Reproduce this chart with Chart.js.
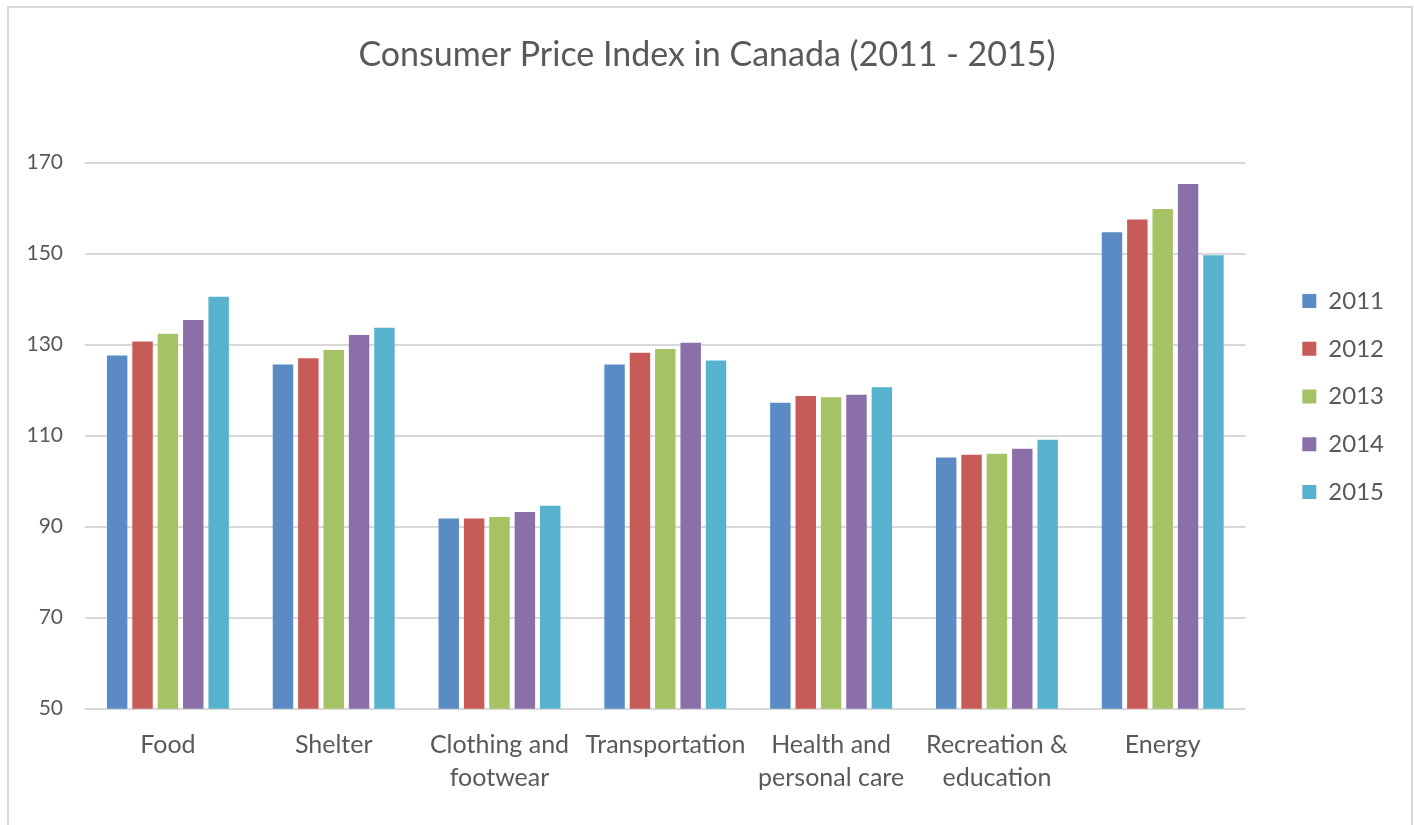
<!DOCTYPE html>
<html>
<head>
<meta charset="utf-8">
<script src="https://cdn.jsdelivr.net/npm/chart.js@4/dist/chart.umd.min.js"></script>
<style>
  html, body { margin: 0; padding: 0; background: #ffffff; }
  #wrap { position: relative; width: 1414px; height: 825px; overflow: hidden; }
  #frame { position: absolute; left: 7px; top: 6px; width: 1402px; height: 830px;
           border-left: 2px solid #d9d9d9; border-top: 2px solid #d9d9d9; border-right: 2px solid #d9d9d9; }
  canvas { position: absolute; left: 0; top: 0; }
</style>
</head>
<body>
<div id="wrap">
  <div id="frame"></div>
  <canvas id="c" width="1414" height="825"></canvas>
</div>
<script>
const categories = [
  'Food',
  'Shelter',
  ['Clothing and', 'footwear'],
  'Transportation',
  ['Health and', 'personal care'],
  ['Recreation &', 'education'],
  'Energy'
];
const years = ['2011', '2012', '2013', '2014', '2015'];
const cpi2011 = [127.6, 125.6, 91.8, 125.6, 117.2, 105.2, 154.7];
const cpi2012 = [130.7, 127.0, 91.8, 128.2, 118.7, 105.8, 157.5];
const cpi2013 = [132.4, 128.8, 92.1, 129.0, 118.4, 106.0, 159.8];
const cpi2014 = [135.4, 132.1, 93.2, 130.4, 119.0, 107.1, 165.3];
const cpi2015 = [140.5, 133.7, 94.6, 126.5, 120.6, 109.1, 149.6];
const yTicks = [50, 70, 90, 110, 130, 150, 170];

const seriesValues = [cpi2011, cpi2012, cpi2013, cpi2014, cpi2015];
const seriesColors = ['#5B8BC4', '#C75B57', '#A5C264', '#8B6FA9', '#57B3CD'];

const FONT = 'Lato, "Open Sans", sans-serif';
const TEXT = '#595959';

new Chart(document.getElementById('c'), {
  type: 'bar',
  data: {
    labels: categories,
    datasets: years.map((y, i) => ({
      label: y,
      data: seriesValues[i],
      backgroundColor: seriesColors[i],
      borderWidth: 0,
      categoryPercentage: 0.765,
      barPercentage: 0.806
    }))
  },
  options: {
    responsive: false,
    animation: false,
    devicePixelRatio: 1,
    layout: { padding: { left: 20, right: 20, top: 0, bottom: 32 } },
    plugins: {
      title: {
        display: true,
        text: 'Consumer Price Index in Canada (2011 - 2015)',
        color: TEXT,
        font: { family: FONT, size: 34, weight: 'normal', lineHeight: 1.2 },
        padding: { top: 35, bottom: 86.7 }
      },
      legend: {
        position: 'right',
        align: 'center',
        labels: {
          color: TEXT,
          font: { family: FONT, size: 24 },
          boxWidth: 14,
          boxHeight: 14,
          padding: 23.7
        }
      },
      tooltip: { enabled: false }
    },
    scales: {
      x: {
        grid: { display: false },
        border: { display: false },
        ticks: {
          color: TEXT,
          font: { family: FONT, size: 25, lineHeight: 1.32 },
          padding: 12,
          maxRotation: 0,
          autoSkip: false
        },
        afterFit: s => { s.height = 825 - 32 - 708.7; }
      },
      y: {
        min: 50,
        max: 170,
        afterBuildTicks: s => { s.ticks = yTicks.map(v => ({ value: v })); },
        grid: { color: '#d9d9d9', lineWidth: 2, drawTicks: false },
        border: { display: false },
        ticks: {
          color: TEXT,
          font: { family: FONT, size: 21 },
          padding: 22
        },
        afterFit: s => { s.width = 65; }
      },
      pad: {
        type: 'linear',
        position: 'right',
        display: true,
        grid: { display: false, drawTicks: false },
        border: { display: false },
        ticks: { display: false },
        afterFit: s => { s.width = 33; }
      }
    }
  }
});
</script>
</body>
</html>
